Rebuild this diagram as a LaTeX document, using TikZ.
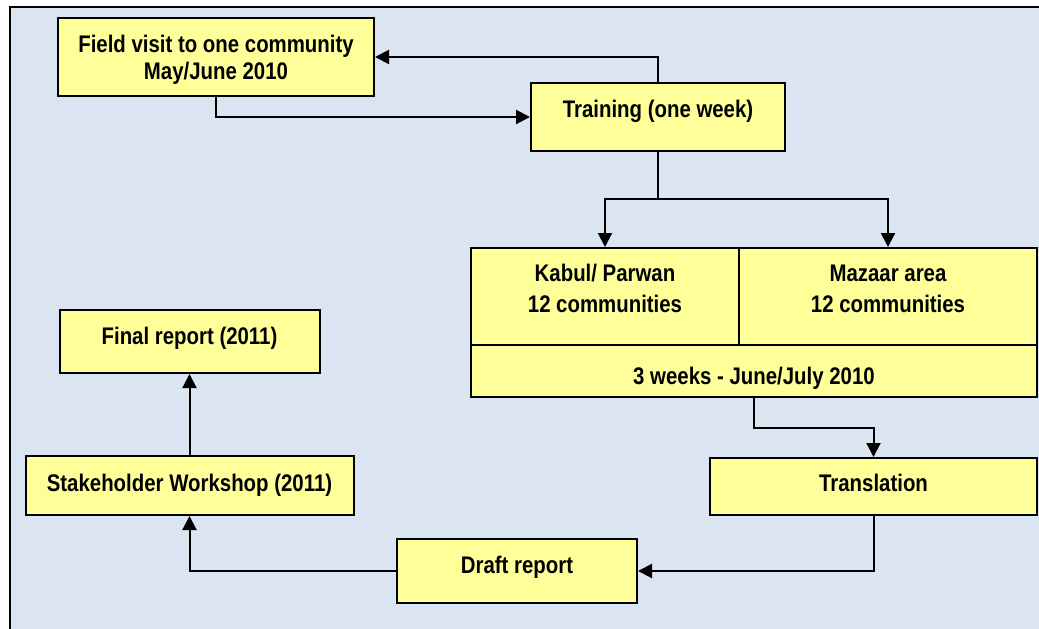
\documentclass[tikz,border=0pt]{standalone}
\usepackage{fontspec}
\newfontfamily\nb{Liberation Sans Bold}[FakeStretch=0.85]
\usetikzlibrary{arrows.meta}
\definecolor{bgblue}{HTML}{DBE5F1}
\definecolor{boxyellow}{HTML}{FFFF99}
\tikzset{
  box/.style={draw=black, line width=2pt, fill=boxyellow, inner sep=0pt, rectangle},
  txt/.style={font=\nb\fontsize{24}{27}\selectfont, align=center, inner sep=0pt, anchor=base},
  conn/.style={line width=2pt, -{Triangle[length=14pt,width=14pt]}},
  plain/.style={line width=2pt},
}
\begin{document}
\begin{tikzpicture}[x=1pt,y=-1pt]
\useasboundingbox (0,0) rectangle (1039,629);
\begin{scope}
  \clip (0,0) rectangle (1039,629);
  \draw[fill=bgblue, line width=2pt] (10,7) rectangle (1060,650);
\end{scope}

% boxes
\node[box, minimum width=316pt, minimum height=78pt] (field) at (216,57) {};
\node[box, minimum width=254pt, minimum height=68pt] (train) at (658,117) {};
\node[box, minimum width=268pt, minimum height=97pt] (kabul) at (605,296.5) {};
\node[box, minimum width=298pt, minimum height=97pt] (mazaar) at (888,296.5) {};
\node[box, minimum width=566pt, minimum height=52pt] (weeks) at (754,371) {};
\node[box, minimum width=327pt, minimum height=57pt] (transl) at (873.5,486.5) {};
\node[box, minimum width=240pt, minimum height=64pt] (draft) at (517,571) {};
\node[box, minimum width=328pt, minimum height=59pt] (stake) at (189.5,485.5) {};
\node[box, minimum width=260pt, minimum height=63pt] (final) at (189.5,341.5) {};

% texts (multi-line nodes: base = last line)
\node[txt] (fieldt) at (216,79) {Field visit to one community\\May/June 2010};
\node[txt] (traint) at (658,117) {Training (one week)};
\node[txt] (kabult) at (605,312) {Kabul/ Parwan\\[4pt]12 communities};
\node[txt] (mazaart) at (888,312) {Mazaar area\\[4pt]12 communities};
\node[txt] (weekst) at (754,384) {3 weeks - June/July 2010};
\node[txt] (translt) at (873.5,491) {Translation};
\node[txt] (draftt) at (517,573) {Draft report};
\node[txt] (staket) at (189.5,491) {Stakeholder Workshop (2011)};
\node[txt] (finalt) at (189.5,344) {Final report (2011)};

% connectors
\coordinate (split) at (658,199);
\draw[conn] (train.north) |- (field.east);
\draw[conn] (field.south) |- (train.west);
\draw[plain] (train.south) -- (split);
\draw[conn] (split) -| (kabul.north);
\draw[conn] (split) -| (mazaar.north);
\draw[conn] (weeks.south) -- ++(0,30) -| (transl.north);
\draw[conn] (transl.south) |- (draft.east);
\draw[conn] (draft.west) -| (stake.south);
\draw[conn] (stake.north) -- (final.south);
\end{tikzpicture}
\end{document}
